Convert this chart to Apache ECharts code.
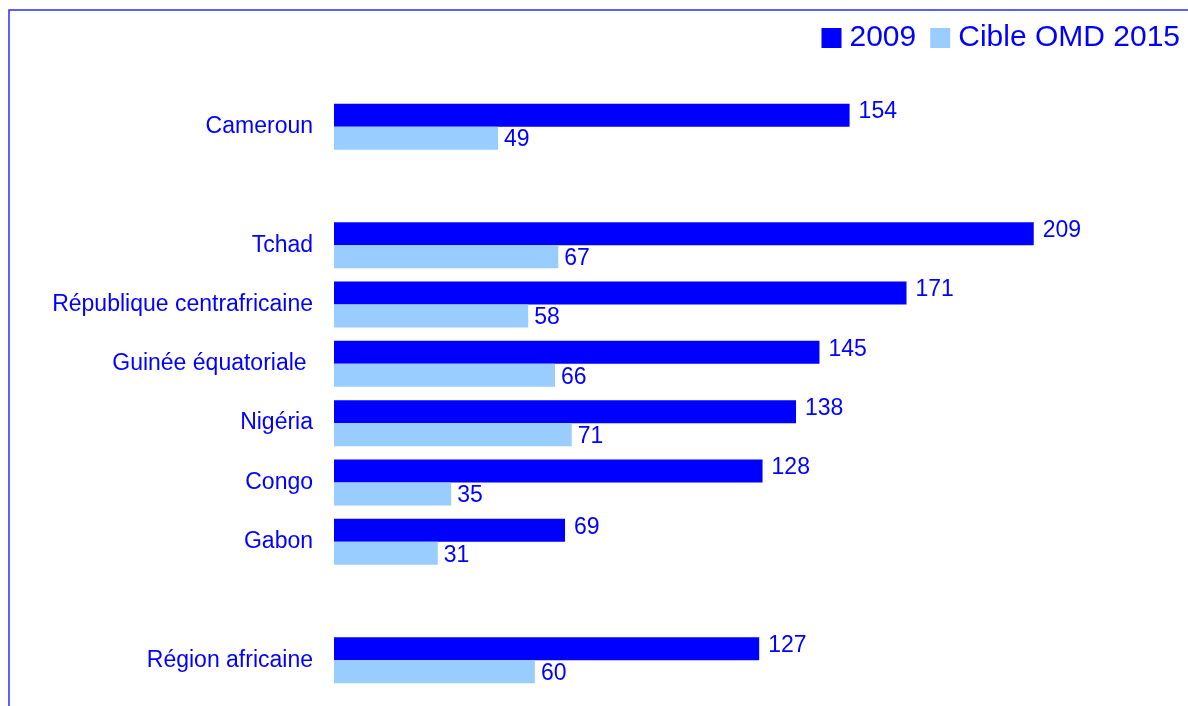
<!DOCTYPE html>
<html><head><meta charset="utf-8">
<script src="https://cdn.jsdelivr.net/npm/echarts@6/dist/echarts.min.js"></script>
<style>html,body{margin:0;padding:0;background:#fff}#c{width:1188px;height:706px}</style>
</head><body><div id="c"></div>
<script>
const categories = ['Cameroun', ' ', 'Tchad', 'République centrafricaine', 'Guinée équatoriale ', 'Nigéria', 'Congo', 'Gabon', '  ', 'Région africaine'];
const values2009 = [154, '-', 209, 171, 145, 138, 128, 69, '-', 127];
const valuesCible = [49, '-', 67, 58, 66, 71, 35, 31, '-', 60];
const seriesNames = ['2009', 'Cible OMD 2015'];

const chart = echarts.init(document.getElementById('c'));
const blue = '#0000ff';
const font = 'Liberation Sans, Arial, sans-serif';
chart.setOption({
  animation: false,
  textStyle: { fontFamily: font },
  graphic: [{ type: 'rect', shape: { x: 9, y: 10, width: 1300, height: 800 }, style: { fill: 'none', stroke: '#2a2aff', lineWidth: 1.5 }, silent: true }],
  legend: {
    right: 3, top: 18, itemWidth: 20, itemHeight: 20, itemGap: 14, icon: 'rect',
    textStyle: { color: blue, fontSize: 30, fontFamily: font, padding: [0, 0, 0, 3] },
    data: seriesNames
  },
  grid: { left: 334, right: 17, top: 97, bottom: 16, containLabel: false },
  xAxis: { type: 'value', min: 0, max: 250, show: false },
  yAxis: {
    type: 'category', inverse: true, data: categories,
    axisLine: { show: false }, axisTick: { show: false },
    axisLabel: { color: blue, fontSize: 23, margin: 21, fontFamily: font }
  },
  series: [
    { name: seriesNames[0], type: 'bar', data: values2009, barWidth: 23, barGap: '0%',
      itemStyle: { color: '#0000ff' },
      label: { show: true, position: 'right', distance: 9, color: blue, fontSize: 23, fontFamily: font, offset: [0, -3] } },
    { name: seriesNames[1], type: 'bar', data: valuesCible, barWidth: 23, barGap: '0%',
      itemStyle: { color: '#99ccff' },
      label: { show: true, position: 'right', distance: 6, color: blue, fontSize: 23, fontFamily: font, offset: [0, 2] } }
  ]
});
</script></body></html>
